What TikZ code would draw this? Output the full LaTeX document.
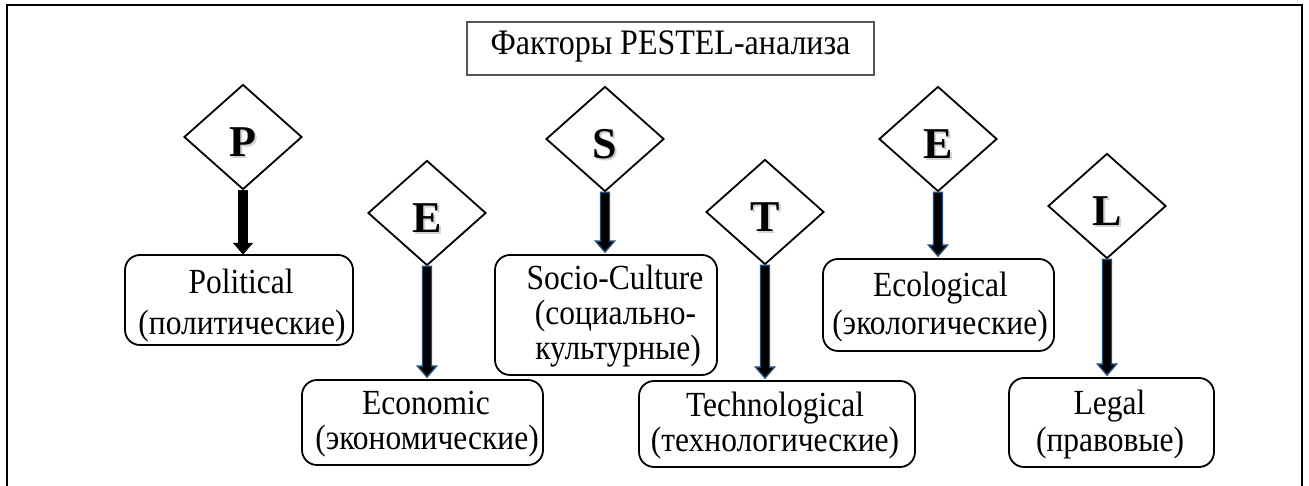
\documentclass[tikz,border=0pt]{standalone}
\usepackage{fontspec}
\setmainfont{Liberation Serif}
\usetikzlibrary{shapes.geometric,calc}
\definecolor{arrowedge}{RGB}{38,78,122}
\definecolor{titleedge}{RGB}{85,85,85}

% block arrow drawn as a polygon from a start point down to an end point
\newcommand\blockarrow[3]{%
  \filldraw[#1] let \p1=(#2), \p2=(#3) in
    (\x1-4.5pt,\y1) -- (\x1+4.5pt,\y1) -- (\x1+4.5pt,\y2+11pt) --
    (\x1+9.5pt,\y2+11pt) -- (\x1,\y2) -- (\x1-9.5pt,\y2+11pt) --
    (\x1-4.5pt,\y2+11pt) -- cycle;}
% slightly tall lettering
\newcommand\tallword[1]{\scalebox{1}[1.12]{#1}}

\begin{document}
\begin{tikzpicture}[x=1pt,y=1pt,
  factor/.style={diamond, draw, line width=1.8pt, inner sep=0pt,
    minimum width=118pt, minimum height=105pt, fill=white},
  letter/.style={font=\bfseries\fontsize{44}{44}\selectfont, anchor=base},
  itembox/.style={draw, line width=1.8pt, rounded corners=15pt, inner sep=0pt},
  itemtext/.style={anchor=base, inner sep=0pt, font=\fontsize{31.5}{31.5}\selectfont},
  bluearrow/.style={fill=black, draw=arrowedge, line width=1.4pt, line join=miter},
  blackarrow/.style={fill=black, draw=black, line width=0.6pt}
]
\useasboundingbox (0,0) rectangle (1309,486);

% outer frame, open at the bottom
\draw[line width=2pt] (6.5,-2) -- (6.5,481) -- (1302,481) -- (1302,-2);

% title
\node[draw=titleedge, line width=1.3pt, minimum width=407pt, minimum height=53pt]
  (title) at (670.5,437.5) {};
\node[anchor=base, inner sep=0pt, font=\fontsize{32}{32}\selectfont]
  (titletext) at (670.5,431) {\tallword{Факторы PESTEL-анализа}};

% factor diamonds
\node[factor] (dP)  at (243,349) {};
\node[factor] (dE1) at (427,273) {};
\node[factor] (dS)  at (605,347) {};
\node[factor] (dT)  at (765,274) {};
\node[factor] (dE2) at (938,347) {};
\node[factor] (dL)  at (1107,280) {};

% letters with a soft drop shadow
\foreach \n/\t in {dP/P, dE1/E, dS/S, dT/T, dE2/E, dL/L}{
  \node[letter, text=black!18] (\n-shadow) at ($(\n.center)+(1.8,-21.8)$) {\t};
  \node[letter] (\n-letter) at ($(\n.center)+(0,-20)$) {\t};
}

% factor boxes
\node[itembox, minimum width=228pt, minimum height=90pt]  (bP)  at (239,186) {};
\node[itembox, minimum width=241pt, minimum height=85pt]  (bE1) at (422.5,63.5) {};
\node[itembox, minimum width=222pt, minimum height=120pt] (bS)  at (606,171) {};
\node[itembox, minimum width=276pt, minimum height=86pt]  (bT)  at (777,62) {};
\node[itembox, minimum width=231pt, minimum height=92pt]  (bE2) at (938.5,181) {};
\node[itembox, minimum width=205pt, minimum height=89pt]  (bL)  at (1111.5,63.5) {};

% box texts
\node[itemtext] (tP1)  at (241,192) {\tallword{Political}};
\node[itemtext] (tP2)  at (242,151) {\tallword{(политические)}};
\node[itemtext] (tE11) at (426,71)  {\tallword{Economic}};
\node[itemtext] (tE12) at (427,36)  {\tallword{(экономические)}};
\node[itemtext] (tS1)  at (615,196) {\tallword{Socio-Culture}};
\node[itemtext] (tS2)  at (615.5,161) {\tallword{(социально-}};
\node[itemtext] (tS3)  at (618,126) {\tallword{культурные)}};
\node[itemtext] (tT1)  at (775,69)  {\tallword{Technological}};
\node[itemtext] (tT2)  at (775,34)  {\tallword{(технологические)}};
\node[itemtext] (tE21) at (940.5,189) {\tallword{Ecological}};
\node[itemtext] (tE22) at (940,151) {\tallword{(экологические)}};
\node[itemtext] (tL1)  at (1109.5,71) {\tallword{Legal}};
\node[itemtext] (tL2)  at (1110,34) {\tallword{(правовые)}};

% arrows from each diamond to its box
\blockarrow{blackarrow}{dP.south}{dP.south |- bP.north}
\blockarrow{bluearrow}{dE1.south}{$(dE1.south |- bE1.north)+(0,2)$}
\blockarrow{bluearrow}{dS.south}{$(dS.south |- bS.north)+(0,2)$}
\blockarrow{bluearrow}{dT.south}{$(dT.south |- bT.north)+(0,2)$}
\blockarrow{bluearrow}{dE2.south}{$(dE2.south |- bE2.north)+(0,2)$}
\blockarrow{bluearrow}{dL.south}{$(dL.south |- bL.north)+(0,2)$}
\end{tikzpicture}
\end{document}
